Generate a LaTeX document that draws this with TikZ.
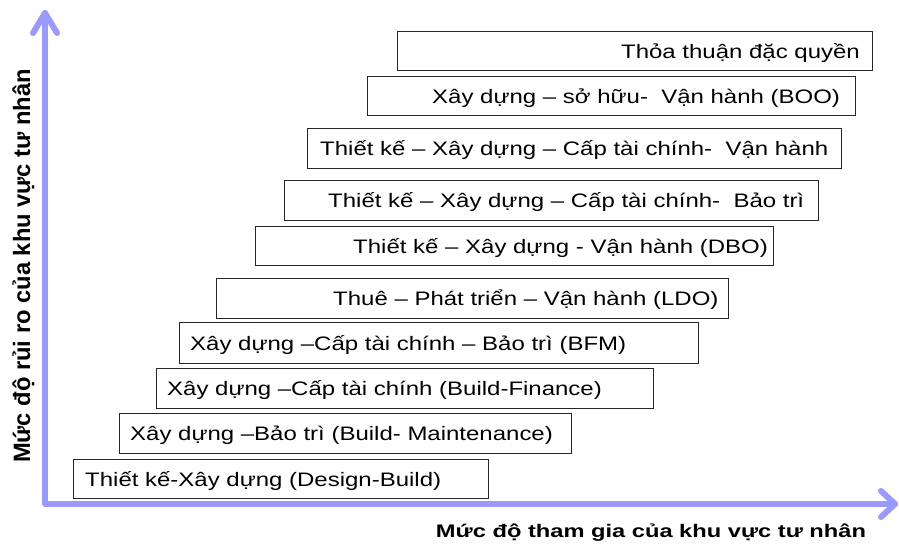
\documentclass[tikz,border=0pt]{standalone}
\usepackage{fontspec}
\setmainfont{Liberation Sans}
\usepackage{graphicx}
\definecolor{axiscol}{HTML}{9999FF}
\newcommand\boxtxt[1]{\scalebox{1.23}[1]{#1}}
\begin{document}
\begin{tikzpicture}[x=1pt,y=-1pt,
  stepbox/.style={draw=black!85, line width=1.1pt, fill=white, inner sep=0pt, anchor=north west},
  boxtext/.style={font=\fontsize{19.5}{22}\selectfont, inner sep=0pt},
  axis/.style={draw=axiscol, line width=6pt, line cap=round, line join=round},
  axislabel/.style={inner sep=0pt}]
\useasboundingbox (0,0) rectangle (899,544);
% axes
\coordinate (O) at (45,504);
\coordinate (Ytip) at (45,13);
\coordinate (Xtip) at (895,504);
\draw[axis] (Ytip) -- (O) -- (Xtip);
\draw[axis] ([shift={(-12,20)}]Ytip) -- (Ytip) -- ([shift={(12,20)}]Ytip);
\draw[axis] ([shift={(-14,-13)}]Xtip) -- (Xtip) -- ([shift={(-14,13)}]Xtip);
% boxes
\node[stepbox, minimum width=475pt, minimum height=39pt] (b1) at (397,31) {};
\node[boxtext, anchor=base east] (t1) at (860,58) {\boxtxt{Thỏa thuận đặc quyền}};
\node[stepbox, minimum width=488pt, minimum height=39pt] (b2) at (367,76) {};
\node[boxtext, anchor=base west] (t2) at (432,103) {\boxtxt{Xây dựng – sở hữu-~ Vận hành (BOO)}};
\node[stepbox, minimum width=534pt, minimum height=40pt] (b3) at (307,128) {};
\node[boxtext, anchor=base west] (t3) at (320,155.5) {\boxtxt{Thiết kế – Xây dựng – Cấp tài chính-~ Vận hành}};
\node[stepbox, minimum width=534pt, minimum height=40pt] (b4) at (284,180) {};
\node[boxtext, anchor=base west] (t4) at (328,207.5) {\boxtxt{Thiết kế – Xây dựng – Cấp tài chính-~ Bảo trì}};
\node[stepbox, minimum width=518pt, minimum height=39pt] (b5) at (255,226) {};
\node[boxtext, anchor=base west] (t5) at (353,253) {\boxtxt{Thiết kế – Xây dựng - Vận hành (DBO)}};
\node[stepbox, minimum width=512pt, minimum height=40pt] (b6) at (216,278) {};
\node[boxtext, anchor=base west] (t6) at (333,305.5) {\boxtxt{Thuê – Phát triển – Vận hành (LDO)}};
\node[stepbox, minimum width=519pt, minimum height=41pt] (b7) at (179,322) {};
\node[boxtext, anchor=base west] (t7) at (190,350) {\boxtxt{Xây dựng –Cấp tài chính – Bảo trì (BFM)}};
\node[stepbox, minimum width=497pt, minimum height=40pt] (b8) at (156,368) {};
\node[boxtext, anchor=base west] (t8) at (167,395.5) {\boxtxt{Xây dựng –Cấp tài chính (Build-Finance)}};
\node[stepbox, minimum width=452pt, minimum height=40pt] (b9) at (119,413) {};
\node[boxtext, anchor=base west] (t9) at (130,440.5) {\boxtxt{Xây dựng –Bảo trì (Build- Maintenance)}};
\node[stepbox, minimum width=415pt, minimum height=39pt] (b10) at (73,459) {};
\node[boxtext, anchor=base west] (t10) at (85,486) {\boxtxt{Thiết kế-Xây dựng (Design-Build)}};
% axis labels
\node[axislabel, font=\bfseries\fontsize{23.7}{26}\selectfont, rotate=90, anchor=base] (ylab) at (30,266) {Mức độ rủi ro của khu vực tư nhân};
\node[axislabel, font=\bfseries\fontsize{18.2}{20}\selectfont, anchor=base] (xlab) at (651,537) {\scalebox{1.3}[1]{Mức độ tham gia của khu vực tư nhân}};
\end{tikzpicture}
\end{document}
